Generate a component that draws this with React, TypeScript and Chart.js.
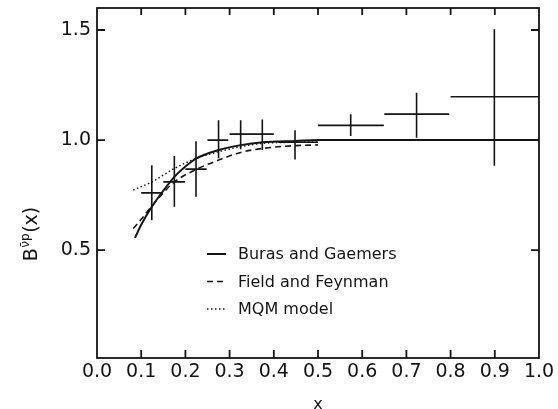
import { useEffect, useRef } from "react";
import { Chart, registerables } from "chart.js";

Chart.register(...registerables);

// Axis ticks
const xTickValues = [0, 0.1, 0.2, 0.3, 0.4, 0.5, 0.6, 0.7, 0.8, 0.9, 1.0];
const yTickValues = [0.5, 1.0, 1.5];

// Measured ratio B(x) with bin widths and errors
const pointX = [0.124, 0.175, 0.224, 0.275, 0.325, 0.374, 0.448, 0.574, 0.723, 0.899];
const pointY = [0.76, 0.81, 0.868, 1.0, 1.027, 1.027, 0.99, 1.067, 1.118, 1.197];
const binLo = [0.1, 0.15, 0.2, 0.25, 0.3, 0.35, 0.41, 0.5, 0.65, 0.8];
const binHi = [0.146, 0.199, 0.248, 0.297, 0.35, 0.4, 0.5, 0.649, 0.797, 1.0];
const errLo = [0.636, 0.697, 0.742, 0.917, 0.958, 0.955, 0.912, 1.018, 1.01, 0.883];
const errHi = [0.886, 0.928, 0.995, 1.09, 1.09, 1.094, 1.045, 1.117, 1.215, 1.503];

// Model curves
const burasX = [0.086, 0.1, 0.124, 0.15, 0.175, 0.2, 0.225, 0.275, 0.325, 0.375, 0.45, 0.5, 0.6, 0.8, 1.0];
const burasY = [0.556, 0.615, 0.697, 0.77, 0.833, 0.88, 0.917, 0.955, 0.977, 0.99, 0.996, 1.0, 1.0, 1.0, 1.0];
const fieldX = [0.082, 0.1, 0.124, 0.15, 0.175, 0.225, 0.275, 0.325, 0.375, 0.45, 0.5];
const fieldY = [0.598, 0.64, 0.7, 0.76, 0.81, 0.867, 0.909, 0.944, 0.962, 0.975, 0.978];
const mqmX = [0.082, 0.124, 0.175, 0.225, 0.275, 0.325, 0.375, 0.45, 0.5];
const mqmY = [0.773, 0.81, 0.871, 0.917, 0.947, 0.97, 0.985, 0.99, 0.992];

const seriesLabels = ["Buras and Gaemers", "Field and Feynman", "MQM model"];

const INK = "#141414";
const FONT = "'DejaVu Sans', sans-serif";

const toPoints = (xs: number[], ys: number[]) => xs.map((x, i) => ({ x, y: ys[i] }));

// Closed frame with inward-pointing tick marks on all four sides
const framePlugin = {
  id: "frame",
  afterDraw(chart: any) {
    const { ctx, chartArea: a, scales } = chart;
    const xs = scales.x;
    const ys = scales.y;
    ctx.save();
    ctx.strokeStyle = INK;
    ctx.lineWidth = 1.8;
    ctx.strokeRect(a.left, a.top, a.right - a.left, a.bottom - a.top);
    ctx.beginPath();
    xTickValues.slice(1, -1).forEach((v) => {
      const px = xs.getPixelForValue(v);
      ctx.moveTo(px, a.bottom);
      ctx.lineTo(px, a.bottom - 8);
      ctx.moveTo(px, a.top);
      ctx.lineTo(px, a.top + 7);
    });
    yTickValues.forEach((v) => {
      const py = ys.getPixelForValue(v);
      ctx.moveTo(a.left, py);
      ctx.lineTo(a.left + 8, py);
      ctx.moveTo(a.right, py);
      ctx.lineTo(a.right - 8, py);
    });
    ctx.stroke();
    ctx.restore();
  },
};

// Crosses: bin width horizontally, error vertically
const errorBarPlugin = {
  id: "errorBars",
  afterDatasetsDraw(chart: any) {
    const { ctx, scales } = chart;
    const xs = scales.x;
    const ys = scales.y;
    ctx.save();
    ctx.strokeStyle = INK;
    ctx.lineWidth = 1.6;
    ctx.beginPath();
    pointX.forEach((x, i) => {
      const py = ys.getPixelForValue(pointY[i]);
      ctx.moveTo(xs.getPixelForValue(binLo[i]), py);
      ctx.lineTo(xs.getPixelForValue(binHi[i]), py);
      const px = xs.getPixelForValue(x);
      ctx.moveTo(px, ys.getPixelForValue(errLo[i]));
      ctx.lineTo(px, ys.getPixelForValue(errHi[i]));
    });
    ctx.stroke();
    ctx.restore();
  },
};

// Legend inside the plot, below the curves
const legendPlugin = {
  id: "insetLegend",
  afterDraw(chart: any) {
    const { ctx, chartArea: a } = chart;
    const left = a.left + 110;
    const top = a.top + 246;
    const rowGap = 27.5;
    ctx.save();
    ctx.font = `16px ${FONT}`;
    ctx.textBaseline = "middle";
    ctx.fillStyle = INK;
    chart.data.datasets.forEach((ds: any, i: number) => {
      if (!ds.showInLegend) return;
      const y = top + i * rowGap;
      ctx.strokeStyle = INK;
      ctx.lineWidth = ds.borderWidth;
      ctx.setLineDash(ds.borderDash || []);
      ctx.beginPath();
      ctx.moveTo(left, y);
      ctx.lineTo(left + 19, y);
      ctx.stroke();
      ctx.setLineDash([]);
      ctx.fillText(ds.label, left + 31, y + 1);
    });
    ctx.restore();
  },
};

// Rotated y-axis title B^{ν̄p}(x)
const yTitlePlugin = {
  id: "yTitle",
  afterDraw(chart: any) {
    const { ctx } = chart;
    const big = `19px ${FONT}`;
    const small = `12px ${FONT}`;
    ctx.save();
    ctx.font = big;
    const wB = ctx.measureText("B").width;
    const wX = ctx.measureText("(x)").width;
    ctx.font = small;
    const wS = ctx.measureText("\u03BD\u0304p").width;
    const total = wB + wS + wX + 1;
    ctx.translate(37, 234);
    ctx.rotate(-Math.PI / 2);
    ctx.fillStyle = INK;
    ctx.textBaseline = "alphabetic";
    let x = -total / 2;
    ctx.font = big;
    ctx.fillText("B", x, 0);
    x += wB + 0.5;
    ctx.font = small;
    ctx.fillText("\u03BD\u0304p", x, -8);
    x += wS + 0.5;
    ctx.font = big;
    ctx.fillText("(x)", x, 0);
    ctx.restore();
  },
};

export default function App() {
  const canvasRef = useRef<HTMLCanvasElement | null>(null);

  useEffect(() => {
    document.body.style.margin = "0";
    const canvas = canvasRef.current;
    if (!canvas) return;

    const chart = new Chart(canvas, {
      type: "scatter",
      data: {
        datasets: [
          {
            type: "line",
            label: seriesLabels[0],
            data: toPoints(burasX, burasY),
            borderColor: INK,
            borderWidth: 2,
            pointRadius: 0,
            cubicInterpolationMode: "monotone",
            showInLegend: true,
          } as any,
          {
            type: "line",
            label: seriesLabels[1],
            data: toPoints(fieldX, fieldY),
            borderColor: INK,
            borderWidth: 1.6,
            borderDash: [6, 4],
            pointRadius: 0,
            cubicInterpolationMode: "monotone",
            showInLegend: true,
          } as any,
          {
            type: "line",
            label: seriesLabels[2],
            data: toPoints(mqmX, mqmY),
            borderColor: INK,
            borderWidth: 1.4,
            borderDash: [1.5, 2.5],
            pointRadius: 0,
            cubicInterpolationMode: "monotone",
            showInLegend: true,
          } as any,
          {
            label: "data",
            data: toPoints(pointX, pointY),
            pointRadius: 0,
            showLine: false,
          } as any,
        ],
      },
      options: {
        animation: false,
        responsive: false,
        events: [],
        layout: { padding: { top: 8, right: 19, left: 0, bottom: 0 } },
        plugins: {
          legend: { display: false },
          tooltip: { enabled: false },
        },
        scales: {
          x: {
            type: "linear",
            min: 0,
            max: 1,
            afterBuildTicks: (s: any) => {
              s.ticks = xTickValues.map((value) => ({ value }));
            },
            afterFit: (s: any) => {
              s.height = 51;
              s.paddingLeft = 0;
              s.paddingRight = 0;
            },
            grid: { display: false, drawTicks: false },
            border: { display: false },
            ticks: {
              autoSkip: false,
              maxRotation: 0,
              padding: 3,
              color: INK,
              font: { family: FONT, size: 19 },
              callback: (v: any) => Number(v).toFixed(1),
            },
            title: {
              display: true,
              text: "x",
              color: INK,
              font: { family: FONT, size: 16 },
              padding: { top: 0, bottom: -5 },
            },
          },
          y: {
            type: "linear",
            min: 0.01,
            max: 1.6,
            afterBuildTicks: (s: any) => {
              s.ticks = yTickValues.map((value) => ({ value }));
            },
            afterFit: (s: any) => {
              s.width = 97;
              s.paddingTop = 0;
              s.paddingBottom = 0;
            },
            grid: { display: false, drawTicks: false },
            border: { display: false },
            ticks: {
              padding: 6,
              color: INK,
              font: { family: FONT, size: 19 },
              callback: (v: any) => Number(v).toFixed(1),
            },
          },
        },
      } as any,
      plugins: [errorBarPlugin, framePlugin, legendPlugin, yTitlePlugin],
    });

    return () => chart.destroy();
  }, []);

  return (
    <div style={{ width: 558, height: 409, background: "#fff" }}>
      <canvas ref={canvasRef} width={558} height={409} />
    </div>
  );
}
